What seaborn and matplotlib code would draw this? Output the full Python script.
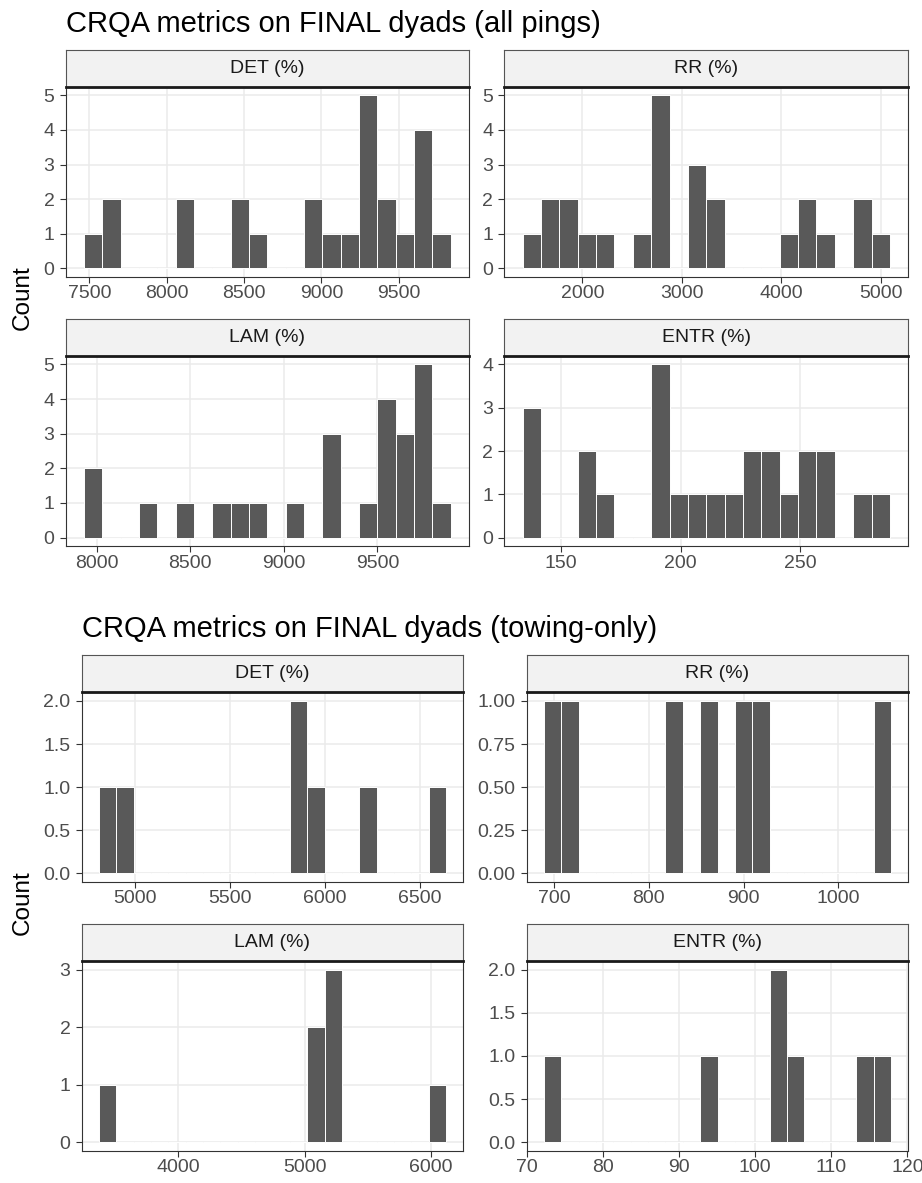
import numpy as np
import matplotlib
matplotlib.use("Agg")
import matplotlib.pyplot as plt
import seaborn as sns

sns.set_theme(style="white")
plt.rcParams['font.family'] = ['Liberation Sans', 'DejaVu Sans']

W, H = 922, 1183

titles = ["CRQA metrics on FINAL dyads (all pings)",
          "CRQA metrics on FINAL dyads (towing-only)"]
metrics = ["DET (%)", "RR (%)", "LAM (%)", "ENTR (%)"]

# ---- all pings: (min, max) of data and counts in 20 bins ----
det_all_range = (7524.8, 9776.3)
det_all_counts = [1, 2, 0, 0, 0, 2, 0, 0, 2, 1, 0, 0, 2, 1, 1, 5, 2, 1, 4, 1]
rr_all_range = (1491.0, 4998.4)
rr_all_counts = [1, 2, 2, 1, 1, 0, 1, 5, 0, 3, 2, 0, 0, 0, 1, 2, 1, 0, 2, 1]
lam_all_range = (7981.3, 9842.3)
lam_all_counts = [2, 0, 0, 1, 0, 1, 0, 1, 1, 1, 0, 1, 0, 3, 0, 1, 4, 3, 5, 1]
entr_all_range = (137.9, 283.6)
entr_all_counts = [3, 0, 0, 2, 1, 0, 0, 4, 1, 1, 1, 1, 2, 2, 1, 2, 2, 0, 1, 1]

# ---- towing-only ----
det_tow_range = (4857.9, 6591.3)
det_tow_counts = [1, 1, 0, 0, 0, 0, 0, 0, 0, 0, 0, 2, 1, 0, 0, 1, 0, 0, 0, 1]
rr_tow_range = (698.6, 1046.4)
rr_tow_counts = [1, 1, 0, 0, 0, 0, 0, 1, 0, 1, 0, 1, 1, 0, 0, 0, 0, 0, 0, 1]
lam_tow_range = (3443.3, 6050.1)
lam_tow_counts = [1, 0, 0, 0, 0, 0, 0, 0, 0, 0, 0, 0, 2, 3, 0, 0, 0, 0, 0, 1]
entr_tow_range = (73.4, 116.7)
entr_tow_counts = [1, 0, 0, 0, 0, 0, 0, 0, 0, 1, 0, 0, 0, 2, 1, 0, 0, 0, 1, 1]

# tick labels
det_all_xticks = [7500, 8000, 8500, 9000, 9500]
rr_all_xticks = [2000, 3000, 4000, 5000]
lam_all_xticks = [8000, 8500, 9000, 9500]
entr_all_xticks = [150, 200, 250]
det_tow_xticks = [5000, 5500, 6000, 6500]
rr_tow_xticks = [700, 800, 900, 1000]
lam_tow_xticks = [4000, 5000, 6000]
entr_tow_xticks = [70, 80, 90, 100, 110, 120]

det_all_yticks = [0, 1, 2, 3, 4, 5]
rr_all_yticks = [0, 1, 2, 3, 4, 5]
lam_all_yticks = [0, 1, 2, 3, 4, 5]
entr_all_yticks = [0, 1, 2, 3, 4]
det_tow_yticks = [0.0, 0.5, 1.0, 1.5, 2.0]
rr_tow_yticks = [0.00, 0.25, 0.50, 0.75, 1.00]
lam_tow_yticks = [0, 1, 2, 3]
entr_tow_yticks = [0.0, 0.5, 1.0, 1.5, 2.0]

fig = plt.figure(figsize=(W / 100, H / 100), dpi=100)


def box(x0, y0, x1, y1):
    return [x0 / W, 1 - y1 / H, (x1 - x0) / W, (y1 - y0) / H]


def panel(xr, strip_y, plot_y, label, rng, counts, xticks, yticks, yfmt):
    ax = fig.add_axes(box(xr[0], plot_y[0], xr[1], plot_y[1]))
    n = len(counts)
    mn, mx = rng
    w = (mx - mn) / (n - 1)
    centers = mn + w * np.arange(n)
    lo, hi = mn - w / 2, mx + w / 2
    sns.histplot(x=centers, weights=counts, bins=n, binrange=(lo, hi), ax=ax,
                 color="#595959", alpha=1, edgecolor="white", linewidth=0.7)
    span = hi - lo
    ax.set_xlim(lo - 0.05 * span, hi + 0.05 * span)
    ymax = max(counts)
    ax.set_ylim(-0.05 * ymax, 1.05 * ymax)
    ax.set_xticks(xticks)
    ax.set_yticks(yticks)
    ax.set_yticklabels([yfmt.format(v) for v in yticks])
    ax.set_xlabel("")
    ax.set_ylabel("")
    ax.grid(True, color="#EBEBEB", linewidth=1.1)
    ax.set_axisbelow(True)
    for s in ax.spines.values():
        s.set_color("#333333")
        s.set_linewidth(0.8)
        s.set_visible(True)
    ax.tick_params(axis="both", which="major", length=4, width=0.8,
                   color="#333333", labelsize=14, labelcolor="#4D4D4D",
                   bottom=True, left=True)
    ax.tick_params(axis="x", pad=2)
    ax.tick_params(axis="y", pad=4)
    sax = fig.add_axes(box(xr[0], strip_y[0], xr[1], strip_y[1]))
    sax.set_facecolor("#F2F2F2")
    sax.set_xticks([])
    sax.set_yticks([])
    for s in sax.spines.values():
        s.set_color("#555555")
        s.set_linewidth(0.8)
    sax.spines["bottom"].set_color("#1A1A1A")
    sax.spines["bottom"].set_linewidth(2.0)
    sax.text(0.5, 0.5, label, ha="center", va="center", fontsize=14,
             color="#1A1A1A", transform=sax.transAxes)
    return ax


# ---- top figure ----
tl, tr = (65.7, 469.0), (504.3, 908.3)
r1s, r1p = (50.0, 86.7), (86.7, 277.0)
r2s, r2p = (319.0, 355.7), (355.7, 546.3)
panel(tl, r1s, r1p, metrics[0], det_all_range, det_all_counts, det_all_xticks, det_all_yticks, "{:.0f}")
panel(tr, r1s, r1p, metrics[1], rr_all_range, rr_all_counts, rr_all_xticks, rr_all_yticks, "{:.0f}")
panel(tl, r2s, r2p, metrics[2], lam_all_range, lam_all_counts, lam_all_xticks, lam_all_yticks, "{:.0f}")
panel(tr, r2s, r2p, metrics[3], entr_all_range, entr_all_counts, entr_all_xticks, entr_all_yticks, "{:.0f}")
fig.text(65.7 / W, 1 - 32 / H, titles[0], fontsize=21, color="black", va="baseline", ha="left")
fig.text(22.5 / W, 1 - 298 / H, "Count", fontsize=17.5, rotation=90, va="center", ha="center", color="black")

# ---- bottom figure ----
bl, br = (81.7, 463.3), (526.7, 908.3)
b1s, b1p = (655.0, 692.3), (692.3, 882.0)
b2s, b2p = (924.3, 961.0), (961.0, 1151.0)
panel(bl, b1s, b1p, metrics[0], det_tow_range, det_tow_counts, det_tow_xticks, det_tow_yticks, "{:.1f}")
panel(br, b1s, b1p, metrics[1], rr_tow_range, rr_tow_counts, rr_tow_xticks, rr_tow_yticks, "{:.2f}")
panel(bl, b2s, b2p, metrics[2], lam_tow_range, lam_tow_counts, lam_tow_xticks, lam_tow_yticks, "{:.0f}")
panel(br, b2s, b2p, metrics[3], entr_tow_range, entr_tow_counts, entr_tow_xticks, entr_tow_yticks, "{:.1f}")
fig.text(81.7 / W, 1 - 637 / H, titles[1], fontsize=21, color="black", va="baseline", ha="left")
fig.text(22.5 / W, 1 - 903 / H, "Count", fontsize=17.5, rotation=90, va="center", ha="center", color="black")

fig.savefig("out.png", dpi=100, facecolor="white")
